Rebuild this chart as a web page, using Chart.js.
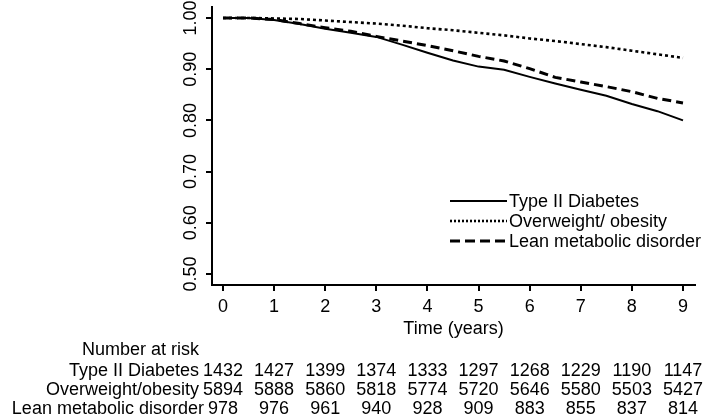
<!DOCTYPE html>
<html>
<head>
<meta charset="utf-8">
<script src="https://cdn.jsdelivr.net/npm/chart.js@4.4.1/dist/chart.umd.min.js"></script>
<style>
  body { margin: 0; background: #fff; }
  canvas { display: block; }
</style>
</head>
<body>
<canvas id="kmChart" width="708" height="420"></canvas>
<script>
// ========================
// DATA
// ========================

const timePoints = [0, 0.5, 1, 1.5, 2, 2.5, 3, 3.5, 4, 4.5, 5, 5.5, 6, 6.5, 7, 7.5, 8, 8.5, 9];

const diabetesSurv   = [1.000, 1.000, 0.996, 0.988, 0.979, 0.971, 0.963, 0.948, 0.932, 0.917, 0.905, 0.899, 0.885, 0.872, 0.860, 0.848, 0.832, 0.818, 0.800];
const overweightSurv = [1.000, 1.000, 0.999, 0.998, 0.995, 0.992, 0.989, 0.985, 0.980, 0.976, 0.971, 0.966, 0.960, 0.955, 0.949, 0.943, 0.936, 0.929, 0.922];
const leanSurv       = [1.000, 1.000, 0.997, 0.989, 0.981, 0.974, 0.964, 0.955, 0.946, 0.936, 0.925, 0.916, 0.901, 0.884, 0.875, 0.866, 0.856, 0.843, 0.834];

const seriesNames = ['Type II Diabetes', 'Overweight/ obesity', 'Lean metabolic disorder'];

const xTicks = [0, 1, 2, 3, 4, 5, 6, 7, 8, 9];
const yTicks = [0.50, 0.60, 0.70, 0.80, 0.90, 1.00];

// number at risk table
const riskTitle = 'Number at risk';
const riskNames = ['Type II Diabetes', 'Overweight/obesity', 'Lean metabolic disorder'];
const riskDiabetes   = [1432, 1427, 1399, 1374, 1333, 1297, 1268, 1229, 1190, 1147];
const riskOverweight = [5894, 5888, 5860, 5818, 5774, 5720, 5646, 5580, 5503, 5427];
const riskLean       = [978, 976, 961, 940, 928, 909, 883, 855, 837, 814];

const FONT = '"Liberation Sans", Arial, Helvetica, sans-serif';

function toPoints(values) {
  return timePoints.map((t, i) => ({ x: t, y: values[i] }));
}

// ========================
// PLUGIN: rotated y labels, legend, risk table
// ========================

const extrasPlugin = {
  id: 'extras',
  afterDraw(chart) {
    const ctx = chart.ctx;
    const xs = chart.scales.x;
    const ys = chart.scales.y;

    ctx.save();
    ctx.fillStyle = '#000';
    ctx.font = '18px ' + FONT;

    // y tick labels, rotated
    yTicks.forEach(v => {
      const py = ys.getPixelForValue(v);
      ctx.save();
      ctx.translate(191, py);
      ctx.rotate(-Math.PI / 2);
      ctx.textAlign = 'center';
      ctx.textBaseline = 'middle';
      ctx.fillText(v.toFixed(2), 0, 0);
      ctx.restore();
    });

    // legend
    const legX1 = 450, legX2 = 507;
    chart.data.datasets.forEach((ds, i) => {
      const ly = 201 + i * 20;
      ctx.save();
      ctx.strokeStyle = '#000';
      ctx.lineWidth = ds.borderWidth;
      ctx.setLineDash(ds.legendDash || []);
      ctx.beginPath();
      ctx.moveTo(legX1, ly);
      ctx.lineTo(legX2, ly);
      ctx.stroke();
      ctx.restore();
      ctx.textAlign = 'left';
      ctx.textBaseline = 'middle';
      ctx.fillText(ds.label, legX2 + 2, ly + 1);
    });

    // number at risk
    ctx.textBaseline = 'middle';
    ctx.textAlign = 'left';
    ctx.fillText(riskTitle, 82, 350);

    const rows = [riskDiabetes, riskOverweight, riskLean];
    rows.forEach((row, r) => {
      const ry = 371 + r * 19;
      ctx.textAlign = 'center';
      row.forEach((n, i) => {
        ctx.fillText(String(n), xs.getPixelForValue(xTicks[i]), ry);
      });
      const firstW = ctx.measureText(String(row[0])).width;
      ctx.textAlign = 'right';
      ctx.fillText(riskNames[r], xs.getPixelForValue(xTicks[0]) - firstW / 2 - 4, ry);
    });

    ctx.restore();
  }
};

// ========================
// CHART
// ========================

const ctx = document.getElementById('kmChart');

new Chart(ctx, {
  type: 'line',
  data: {
    datasets: [
      {
        label: seriesNames[0],
        data: toPoints(diabetesSurv),
        borderColor: '#000',
        borderWidth: 2,
        legendDash: []
      },
      {
        label: seriesNames[1],
        data: toPoints(overweightSurv),
        borderColor: '#000',
        borderWidth: 2.6,
        borderDash: [3, 3],
        legendDash: [2, 2]
      },
      {
        label: seriesNames[2],
        data: toPoints(leanSurv),
        borderColor: '#000',
        borderWidth: 3,
        borderDash: [9, 5],
        legendDash: [10, 5]
      }
    ]
  },
  options: {
    responsive: false,
    animation: false,
    events: [],
    elements: {
      point: { radius: 0 },
      line: { tension: 0, borderCapStyle: 'butt' }
    },
    layout: {
      padding: { left: 0, right: 13, top: 7, bottom: 80 }
    },
    plugins: {
      legend: { display: false },
      tooltip: { enabled: false }
    },
    scales: {
      x: {
        type: 'linear',
        min: -0.215,
        max: 9.235,
        afterBuildTicks: s => { s.ticks = xTicks.map(v => ({ value: v })); },
        afterFit: s => { s.height = 55; },
        border: { display: true, color: '#000', width: 2 },
        grid: { drawOnChartArea: false, drawTicks: true, tickLength: 6, color: '#000', lineWidth: 2 },
        ticks: {
          color: '#000',
          font: { size: 18, family: FONT },
          padding: 5,
          maxRotation: 0,
          autoSkip: false
        },
        title: {
          display: true,
          text: 'Time (years)',
          color: '#000',
          font: { size: 18, family: FONT },
          padding: { top: 0, bottom: 0 }
        }
      },
      y: {
        type: 'linear',
        min: 0.4786,
        max: 1.0214,
        afterBuildTicks: s => { s.ticks = yTicks.map(v => ({ value: v })); },
        afterFit: s => { s.width = 212; },
        border: { display: true, color: '#000', width: 2 },
        grid: { drawOnChartArea: false, drawTicks: true, tickLength: 6, color: '#000', lineWidth: 2 },
        ticks: { display: false }
      }
    }
  },
  plugins: [extrasPlugin]
});
</script>
</body>
</html>
